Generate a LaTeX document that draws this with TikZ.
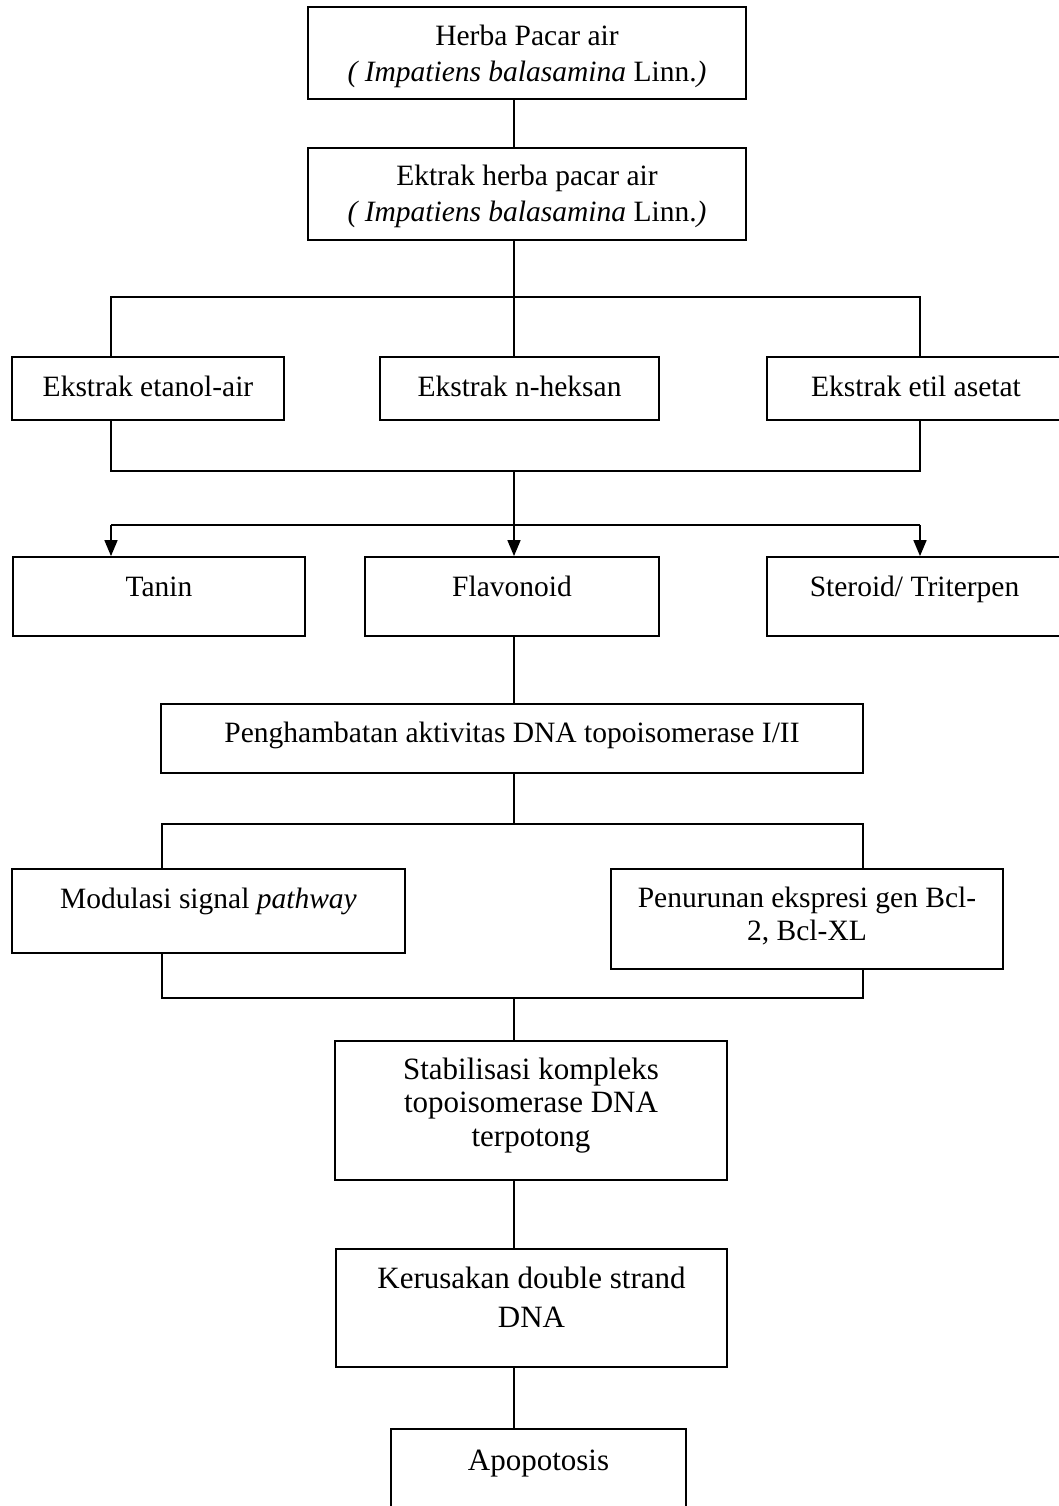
\documentclass[tikz,border=0pt]{standalone}
\usepackage{fontspec}
\setmainfont{Liberation Serif}
\usetikzlibrary{arrows.meta}
\begin{document}
\begin{tikzpicture}[x=1pt,y=-1pt,
  box/.style={draw, line width=1.8pt, inner sep=0pt, align=center, font=\fontsize{29.5}{36}\selectfont},
  bigbox/.style={box, font=\fontsize{31}{34}\selectfont},
  conn/.style={line width=1.6pt},
  arr/.style={conn, -{Triangle[length=16pt,width=13pt]}}]
\useasboundingbox (0,0) rectangle (1059,1506);
\clip (0,0) rectangle (1059,1506);

% trunk and branch coordinates
\coordinate (c) at (514,0);
\coordinate (L) at (111,0);
\coordinate (R) at (920,0);
\coordinate (L2) at (162,0);
\coordinate (R2) at (863,0);
\coordinate (j1) at (514,297);
\coordinate (j2) at (514,471);
\coordinate (j3) at (514,525);
\coordinate (j4) at (514,824);
\coordinate (j5) at (514,998);

% boxes
\node[box, minimum width=438pt, minimum height=92pt, text height=58pt, text depth=0pt] (herba) at (527,53)
  {Herba Pacar air\\\textit{( Impatiens balasamina} Linn.\textit{)}};
\node[box, minimum width=438pt, minimum height=92pt, text height=56pt, text depth=0pt] (ekstrak) at (527,194)
  {Ektrak herba pacar air\\\textit{( Impatiens balasamina} Linn.\textit{)}};

\node[box, minimum width=272pt, minimum height=63pt, text height=15pt, text depth=0pt] (etanol) at (148,388.5) {Ekstrak etanol-air};
\node[box, minimum width=279pt, minimum height=63pt, text height=15pt, text depth=0pt] (heksan) at (519.5,388.5) {Ekstrak n-heksan};
\node[box, minimum width=298pt, minimum height=63pt, text height=15pt, text depth=0pt] (etil) at (916,388.5) {Ekstrak etil asetat};

\node[box, minimum width=292pt, minimum height=79pt, text height=0pt, text depth=0pt] (tanin) at (159,596.5) {Tanin};
\node[box, minimum width=294pt, minimum height=79pt, text height=0pt, text depth=0pt] (flav) at (512,596.5) {Flavonoid};
\node[box, minimum width=295pt, minimum height=79pt, text height=0pt, text depth=0pt] (steroid) at (914.5,596.5) {Steroid/ Triterpen};

\node[box, minimum width=702pt, minimum height=69pt, text height=7pt, text depth=0pt] (peng) at (512,738.5)
  {Penghambatan aktivitas DNA topoisomerase I/II};

\node[box, minimum width=393pt, minimum height=84pt, text height=0pt, text depth=6pt] (mod) at (208.5,911)
  {Modulasi signal \textit{pathway}};
\node[box, font=\fontsize{29.5}{33}\selectfont, minimum width=392pt, minimum height=100pt, text height=42pt, text depth=0pt] (pen) at (807,919)
  {Penurunan ekspresi gen Bcl-\\2, Bcl-XL};

\node[bigbox, font=\fontsize{31}{33.5}\selectfont, minimum width=392pt, minimum height=139pt, text height=71pt, text depth=0pt] (stab) at (531,1110.5)
  {Stabilisasi kompleks\\topoisomerase DNA\\terpotong};
\node[bigbox, font=\fontsize{31}{39}\selectfont, minimum width=391pt, minimum height=118pt, text height=38pt, text depth=0pt] (kerus) at (531.5,1308)
  {Kerusakan double strand\\DNA};
\node[bigbox, minimum width=295pt, minimum height=101pt, text height=0pt, text depth=19pt] (apop) at (538.5,1479.5)
  {Apopotosis};

% connectors
\draw[conn] (herba.south -| c) -- (ekstrak.north -| c);
\draw[conn] (ekstrak.south -| c) -- (j1);
\draw[conn] (etanol.north -| L) -- (L |- j1) -- (R |- j1) -- (etil.north -| R);
\draw[conn] (j1) -- (heksan.north -| c);

\draw[conn] (etanol.south -| L) -- (L |- j2) -- (R |- j2) -- (etil.south -| R);
\draw[arr] (j2) -- (flav.north -| c);
\draw[conn] (L |- j3) -- (R |- j3);
\draw[arr] (L |- j3) -- (tanin.north -| L);
\draw[arr] (R |- j3) -- (steroid.north -| R);

\draw[conn] (flav.south -| c) -- (peng.north -| c);
\draw[conn] (peng.south -| c) -- (j4);
\draw[conn] (mod.north -| L2) -- (L2 |- j4) -- (R2 |- j4) -- (pen.north -| R2);

\draw[conn] (mod.south -| L2) -- (L2 |- j5) -- (R2 |- j5) -- (pen.south -| R2);
\draw[conn] (j5) -- (stab.north -| c);
\draw[conn] (stab.south -| c) -- (kerus.north -| c);
\draw[conn] (kerus.south -| c) -- (apop.north -| c);
\end{tikzpicture}
\end{document}
